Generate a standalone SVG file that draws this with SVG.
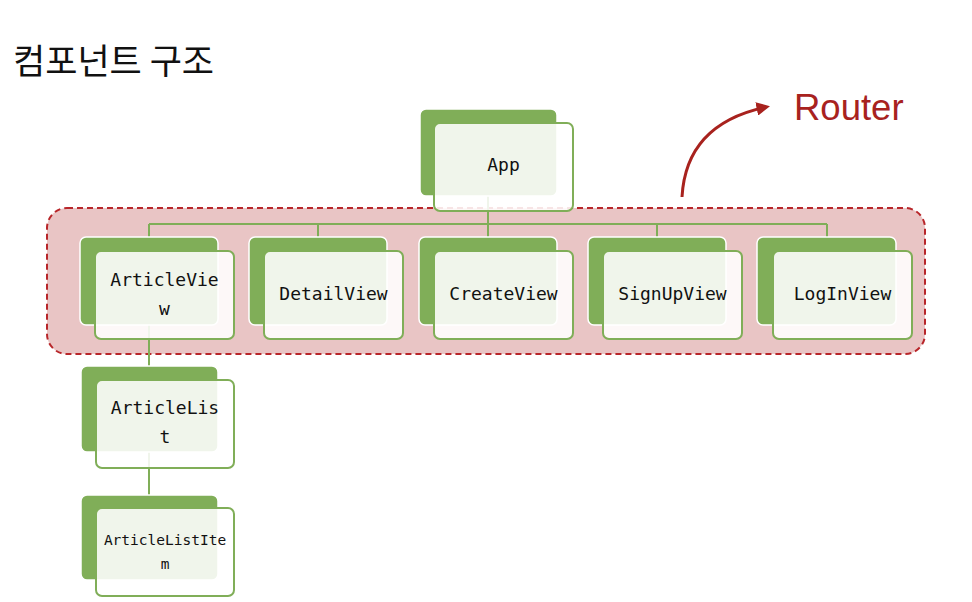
<svg xmlns="http://www.w3.org/2000/svg" width="972" height="602" viewBox="0 0 972 602">
<defs>
<style>
.back{fill:#80AE58;stroke:#ffffff;stroke-width:1.5}
.front{fill:#ffffff;fill-opacity:0.88;stroke:#80AE58;stroke-width:2}
.lbl{font-family:"DejaVu Sans Mono","Liberation Mono",monospace;font-size:18px;fill:#111;text-anchor:middle}
.sm{font-size:14.5px}
.conn{stroke:#80AE58;stroke-width:2;fill:none}
</style>
<marker id="ah" viewBox="0 0 10 10" refX="7" refY="5" markerWidth="4.5" markerHeight="4.5" orient="auto" markerUnits="strokeWidth">
<path d="M0,0 L10,5 L0,10 z" fill="#A8221E"/>
</marker>
</defs>
<rect width="972" height="602" fill="#ffffff"/>
<text x="13" y="74" font-family="'Noto Sans CJK KR','Noto Sans',sans-serif" font-size="35" fill="#111">컴포넌트 구조</text>
<g id="router-group">
<rect x="47" y="208" width="878" height="146" rx="20" fill="#E9C5C5" stroke="#B8262A" stroke-width="2" stroke-dasharray="6 4"/>
</g>
<g id="router-label">
<path d="M682,197 Q686,124 766,107" fill="none" stroke="#A8221E" stroke-width="3" marker-end="url(#ah)"/>
<text x="794" y="120" font-family="'Liberation Sans',Arial,sans-serif" font-size="36.5" fill="#A8221E">Router</text>
</g>
<g id="connectors">
<path class="conn" d="M488,196 V224 M149,224 H827 M149,224 V237 M318,224 V237 M488,224 V237 M657,224 V237 M827,224 V237"/>
<path class="conn" d="M149,325 V366 M149,452 V495"/>
</g>
<g id="App">
<rect class="back" x="420" y="109" width="137" height="87" rx="6"/>
<rect class="front" x="434" y="123" width="139" height="88" rx="6"/>
<text class="lbl" x="503.5" y="171">App</text>
</g>
<g id="ArticleView">
<rect class="back" x="80" y="237" width="138" height="88" rx="6"/>
<rect class="front" x="95" y="251" width="139" height="88" rx="6"/>
<text class="lbl" x="164.5" y="286">ArticleVie</text>
<text class="lbl" x="164.5" y="315">w</text>
</g>
<g id="DetailView">
<rect class="back" x="249" y="237" width="138" height="88" rx="6"/>
<rect class="front" x="264" y="251" width="139" height="88" rx="6"/>
<text class="lbl" x="333.5" y="300">DetailView</text>
</g>
<g id="CreateView">
<rect class="back" x="419" y="237" width="138" height="88" rx="6"/>
<rect class="front" x="434" y="251" width="139" height="88" rx="6"/>
<text class="lbl" x="503.5" y="300">CreateView</text>
</g>
<g id="SignUpView">
<rect class="back" x="588" y="237" width="138" height="88" rx="6"/>
<rect class="front" x="603" y="251" width="139" height="88" rx="6"/>
<text class="lbl" x="672.5" y="300">SignUpView</text>
</g>
<g id="LogInView">
<rect class="back" x="757" y="237" width="139" height="88" rx="6"/>
<rect class="front" x="773" y="251" width="139" height="88" rx="6"/>
<text class="lbl" x="842.5" y="300">LogInView</text>
</g>
<g id="ArticleList">
<rect class="back" x="81" y="366" width="137" height="86" rx="6"/>
<rect class="front" x="96" y="380" width="138" height="88" rx="6"/>
<text class="lbl" x="165" y="414">ArticleLis</text>
<text class="lbl" x="165" y="443">t</text>
</g>
<g id="ArticleListItem">
<rect class="back" x="81" y="495" width="137" height="85" rx="6"/>
<rect class="front" x="96" y="508" width="138" height="88" rx="6"/>
<text class="lbl sm" x="165" y="545">ArticleListIte</text>
<text class="lbl sm" x="165" y="569">m</text>
</g>
</svg>
